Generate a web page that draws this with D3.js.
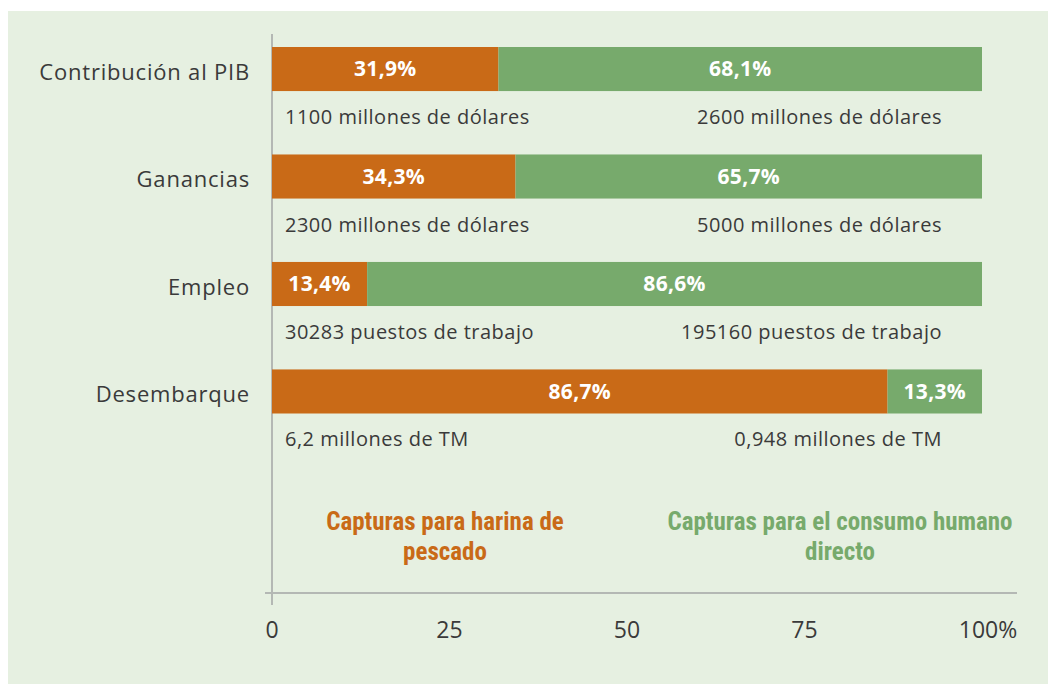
<!DOCTYPE html>
<html lang="es">
<head>
<meta charset="UTF-8">
<title>Capturas</title>
<script src="https://d3js.org/d3.v7.min.js"></script>
<style>
  body { margin: 0; background: #fff; }
  svg text { font-family: "Open Sans", "Noto Sans", sans-serif; }
  .cond { font-family: "Liberation Sans Narrow", "Roboto Condensed", "Arial Narrow", sans-serif !important; }
</style>
</head>
<body>
<div id="chart"></div>
<script>
  // data
  const categories = ["Contribución al PIB", "Ganancias", "Empleo", "Desembarque"];
  const harina = [31.9, 34.3, 13.4, 86.7];
  const consumo = [68.1, 65.7, 86.6, 13.3];
  const harinaNotes = ["1100 millones de dólares", "2300 millones de dólares", "30283 puestos de trabajo", "6,2 millones de TM"];
  const consumoNotes = ["2600 millones de dólares", "5000 millones de dólares", "195160 puestos de trabajo", "0,948 millones de TM"];
  const ticks = [0, 25, 50, 75, 100];
  const seriesNames = [["Capturas para harina de", "pescado"], ["Capturas para el consumo humano", "directo"]];

  const width = 1051, height = 684;
  const orange = "#c96a17", green = "#77aa6c", textCol = "#3a3a3a";

  const svg = d3.select("#chart").append("svg")
    .attr("width", width).attr("height", height);

  // panel background
  svg.append("rect")
    .attr("x", 8).attr("y", 11)
    .attr("width", 1040).attr("height", 673)
    .attr("fill", "#e6f0e1");

  const x = d3.scaleLinear().domain([0, 100]).range([272, 982]);
  const y = d3.scaleBand().domain(categories)
    .range([47, 413.5]).paddingInner(0.59).paddingOuter(0);

  // axis lines
  svg.append("line")
    .attr("x1", x(0)).attr("x2", x(0))
    .attr("y1", 34).attr("y2", 605)
    .attr("stroke", "#b4b8b4").attr("stroke-width", 2);
  svg.append("line")
    .attr("x1", 265).attr("x2", 1017)
    .attr("y1", 593).attr("y2", 593)
    .attr("stroke", "#b4b8b4").attr("stroke-width", 2);

  const rows = categories.map((c, i) => ({ c, h: harina[i], g: consumo[i], hn: harinaNotes[i], gn: consumoNotes[i] }));

  const row = svg.selectAll("g.row").data(rows).join("g").attr("class", "row");

  row.append("rect")
    .attr("x", x(0)).attr("y", d => y(d.c))
    .attr("width", d => x(d.h) - x(0)).attr("height", y.bandwidth())
    .attr("fill", orange);
  row.append("rect")
    .attr("x", d => x(d.h)).attr("y", d => y(d.c))
    .attr("width", d => x(d.h + d.g) - x(d.h)).attr("height", y.bandwidth())
    .attr("fill", green);

  // percent labels
  const fmt = v => v.toFixed(1).replace(".", ",") + "%";
  row.append("text")
    .attr("x", d => (x(0) + x(d.h)) / 2)
    .attr("y", d => y(d.c) + y.bandwidth() / 2)
    .attr("dy", "0.35em").attr("text-anchor", "middle")
    .attr("fill", "#fff").attr("font-size", 21).attr("font-weight", "bold")
    .attr("letter-spacing", 0.3)
    .text(d => fmt(d.h));
  row.append("text")
    .attr("x", d => (x(d.h) + x(d.h + d.g)) / 2)
    .attr("y", d => y(d.c) + y.bandwidth() / 2)
    .attr("dy", "0.35em").attr("text-anchor", "middle")
    .attr("fill", "#fff").attr("font-size", 21).attr("font-weight", "bold")
    .attr("letter-spacing", 0.3)
    .text(d => fmt(d.g));

  // category labels
  row.append("text")
    .attr("x", 250)
    .attr("y", d => y(d.c) + y.bandwidth() / 2 + 3)
    .attr("dy", "0.35em").attr("text-anchor", "end")
    .attr("fill", textCol).attr("font-size", 22).attr("letter-spacing", 0.8)
    .text(d => d.c);

  // notes under bars
  row.append("text")
    .attr("x", 285)
    .attr("y", d => y(d.c) + y.bandwidth() / 2 + 48)
    .attr("dy", "0.35em")
    .attr("fill", textCol).attr("font-size", 20).attr("letter-spacing", 0.5)
    .text(d => d.hn);
  row.append("text")
    .attr("x", 942)
    .attr("y", d => y(d.c) + y.bandwidth() / 2 + 48)
    .attr("dy", "0.35em").attr("text-anchor", "end")
    .attr("fill", textCol).attr("font-size", 20).attr("letter-spacing", 0.5)
    .text(d => d.gn);

  // legend
  const legendX = [445, 840];
  const legendCols = [orange, green];
  seriesNames.forEach((lines, i) => {
    lines.forEach((t, j) => {
      svg.append("text")
        .attr("class", "cond")
        .attr("x", legendX[i]).attr("y", 521 + j * 30)
        .attr("dy", "0.35em").attr("text-anchor", "middle")
        .attr("fill", legendCols[i]).attr("font-size", 25).attr("font-weight", "bold")
        .text(t);
    });
  });

  // x tick labels
  svg.selectAll("text.tick").data(ticks).join("text")
    .attr("class", "tick")
    .attr("x", d => d === 100 ? x(d) + 6 : x(d))
    .attr("y", 630).attr("dy", "0.35em").attr("text-anchor", "middle")
    .attr("fill", textCol).attr("font-size", 23)
    .text(d => d === 100 ? "100%" : d);
</script>
</body>
</html>
